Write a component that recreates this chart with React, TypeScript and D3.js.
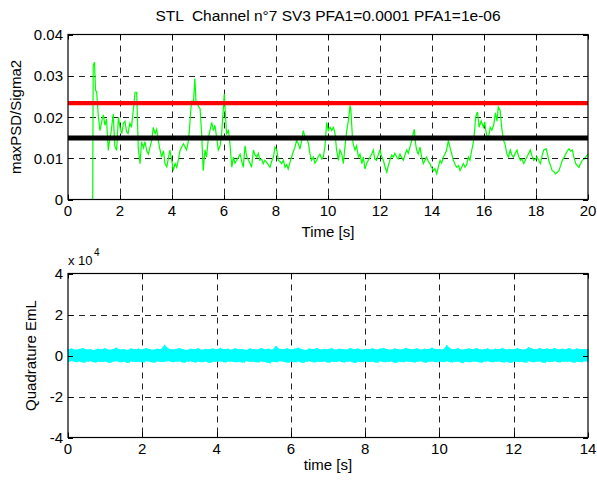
import React from 'react';
import * as d3 from 'd3';

const titleText = 'STL  Channel n°7 SV3 PFA1=0.0001 PFA1=1e-06';
const topXTicks = [0, 2, 4, 6, 8, 10, 12, 14, 16, 18, 20];
const topYTicks = [0, 0.01, 0.02, 0.03, 0.04];
const topYTickLabels = ['0', '0.01', '0.02', '0.03', '0.04'];
const topXLabel = 'Time [s]';
const topYLabel = 'maxPSD/Sigma2';
const redThreshold = 0.02335;
const blackThreshold = 0.0149;
const zeroLineT = [0, 20];
const zeroLineV = [0, 0];

const greenT = [
  0, 0.95, 0.97, 1.02, 1.06, 1.1, 1.17, 1.23, 1.3, 1.36, 1.42, 1.48, 1.55, 1.6, 1.65, 1.74, 1.8, 1.87, 1.94, 2.0,
  2.07, 2.13, 2.19, 2.25, 2.31, 2.38, 2.44, 2.51, 2.58, 2.64, 2.67, 2.7, 2.77, 2.83, 2.9, 2.96, 3.03, 3.09, 3.16, 3.22,
  3.28, 3.35, 3.41, 3.47, 3.54, 3.6, 3.67, 3.73, 3.8, 3.86, 3.92, 3.99, 4.05, 4.12, 4.18, 4.24, 4.31, 4.37, 4.44, 4.5,
  4.56, 4.62, 4.67, 4.72, 4.76, 4.82, 4.88, 4.92, 5.01, 5.08, 5.14, 5.2, 5.27, 5.33, 5.4, 5.46, 5.53, 5.59, 5.65, 5.72,
  5.78, 5.85, 5.91, 5.97, 6.01, 6.06, 6.1, 6.17, 6.23, 6.3, 6.36, 6.42, 6.49, 6.55, 6.62, 6.68, 6.74, 6.81, 6.87, 6.94,
  7.0, 7.06, 7.13, 7.19, 7.26, 7.32, 7.38, 7.45, 7.51, 7.57, 7.64, 7.7, 7.77, 7.83, 7.9, 7.96, 8.03, 8.09, 8.15, 8.22,
  8.28, 8.35, 8.41, 8.47, 8.53, 8.6, 8.66, 8.73, 8.79, 8.86, 8.92, 8.99, 9.05, 9.12, 9.18, 9.25, 9.31, 9.37, 9.44, 9.5,
  9.57, 9.63, 9.69, 9.76, 9.82, 9.88, 9.95, 10.01, 10.08, 10.14, 10.21, 10.27, 10.33, 10.4, 10.46, 10.53, 10.59, 10.65, 10.72, 10.78,
  10.85, 10.88, 10.94, 10.97, 11.04, 11.1, 11.17, 11.23, 11.3, 11.36, 11.42, 11.49, 11.55, 11.62, 11.68, 11.74, 11.8, 11.87, 11.93, 12.0,
  12.06, 12.13, 12.19, 12.26, 12.32, 12.38, 12.45, 12.51, 12.57, 12.64, 12.7, 12.77, 12.83, 12.9, 12.96, 13.03, 13.09, 13.15, 13.22, 13.28,
  13.32, 13.37, 13.41, 13.47, 13.54, 13.6, 13.67, 13.73, 13.79, 13.86, 13.92, 13.98, 14.05, 14.11, 14.18, 14.24, 14.31, 14.37, 14.44, 14.5,
  14.56, 14.63, 14.69, 14.76, 14.82, 14.89, 14.95, 15.02, 15.08, 15.14, 15.21, 15.27, 15.33, 15.4, 15.46, 15.53, 15.58, 15.63, 15.68, 15.75,
  15.81, 15.89, 15.98, 16.03, 16.07, 16.15, 16.2, 16.24, 16.3, 16.37, 16.44, 16.5, 16.55, 16.62, 16.68, 16.75, 16.81, 16.88, 16.94, 17.01,
  17.07, 17.14, 17.2, 17.27, 17.33, 17.4, 17.46, 17.53, 17.59, 17.65, 17.72, 17.78, 17.85, 17.91, 17.98, 18.04, 18.1, 18.17, 18.23, 18.3,
  18.39, 18.45, 18.49, 18.56, 18.62, 18.68, 18.75, 18.82, 18.88, 18.95, 19.01, 19.08, 19.14, 19.21, 19.27, 19.33, 19.4, 19.46, 19.53, 19.59,
  19.65, 19.72, 19.78, 19.85, 19.91, 20.0,
];
const greenV = [
  0, 0, 0.0325, 0.0333, 0.0264, 0.0262, 0.02, 0.0167, 0.019, 0.0205, 0.018, 0.0195, 0.0119, 0.0145, 0.016, 0.0208, 0.013, 0.0119, 0.02, 0.0175,
  0.016, 0.0185, 0.019, 0.0165, 0.016, 0.0185, 0.0175, 0.0216, 0.026, 0.026, 0.02, 0.0127, 0.0087, 0.014, 0.0125, 0.014, 0.0118, 0.011, 0.0128, 0.0143,
  0.0175, 0.016, 0.017, 0.0144, 0.012, 0.0103, 0.0118, 0.0087, 0.0079, 0.01, 0.012, 0.0095, 0.007, 0.0087, 0.0078, 0.0095, 0.0119, 0.0127, 0.0135, 0.0128,
  0.012, 0.0138, 0.0167, 0.0215, 0.024, 0.023, 0.0293, 0.024, 0.0227, 0.022, 0.016, 0.007, 0.012, 0.0103, 0.015, 0.0167, 0.0187, 0.0167, 0.018, 0.015,
  0.012, 0.013, 0.016, 0.0216, 0.0256, 0.02, 0.016, 0.0167, 0.0135, 0.0078, 0.0103, 0.0088, 0.0095, 0.0102, 0.011, 0.0093, 0.0078, 0.013, 0.0105, 0.0095,
  0.0088, 0.0078, 0.012, 0.0108, 0.0103, 0.0112, 0.0095, 0.0098, 0.0087, 0.0095, 0.009, 0.0085, 0.0078, 0.0092, 0.0103, 0.0127, 0.012, 0.0095, 0.0092, 0.0087,
  0.0095, 0.0078, 0.0085, 0.0074, 0.0088, 0.0103, 0.0115, 0.0127, 0.0143, 0.0135, 0.0122, 0.0143, 0.0167, 0.015, 0.015, 0.0135, 0.011, 0.0095, 0.0103, 0.0088,
  0.0095, 0.0105, 0.011, 0.0098, 0.0103, 0.0127, 0.0187, 0.0167, 0.0175, 0.0167, 0.0175, 0.016, 0.012, 0.0095, 0.012, 0.011, 0.0087, 0.0127, 0.0167, 0.019,
  0.0228, 0.0216, 0.015, 0.0135, 0.012, 0.013, 0.0103, 0.011, 0.0087, 0.0103, 0.0074, 0.0088, 0.0095, 0.0103, 0.011, 0.012, 0.0098, 0.0095, 0.0108, 0.012,
  0.0105, 0.0095, 0.008, 0.0066, 0.0082, 0.0095, 0.0108, 0.0103, 0.0112, 0.0103, 0.0098, 0.011, 0.0102, 0.0095, 0.0108, 0.012, 0.0112, 0.0127, 0.0143, 0.016,
  0.017, 0.0135, 0.012, 0.011, 0.0127, 0.0103, 0.0087, 0.0095, 0.0103, 0.0092, 0.0087, 0.0078, 0.007, 0.0075, 0.0062, 0.0078, 0.0095, 0.0088, 0.0103, 0.011,
  0.012, 0.0143, 0.0127, 0.011, 0.0095, 0.0085, 0.0078, 0.0082, 0.007, 0.0078, 0.0087, 0.0078, 0.0084, 0.0103, 0.0095, 0.012, 0.0135, 0.016, 0.02, 0.0212,
  0.0175, 0.019, 0.0175, 0.0188, 0.0167, 0.0143, 0.016, 0.0175, 0.0168, 0.018, 0.021, 0.019, 0.0224, 0.0216, 0.0175, 0.0143, 0.0135, 0.011, 0.0103, 0.012,
  0.0108, 0.0103, 0.0112, 0.012, 0.0105, 0.0095, 0.0098, 0.0087, 0.0095, 0.0103, 0.0112, 0.012, 0.0105, 0.0095, 0.0098, 0.0103, 0.0095, 0.0087, 0.0105, 0.012,
  0.0123, 0.0108, 0.0095, 0.0082, 0.007, 0.0068, 0.0062, 0.0066, 0.007, 0.0082, 0.0095, 0.0102, 0.011, 0.0118, 0.0123, 0.0117, 0.012, 0.0102, 0.0087, 0.0082,
  0.0078, 0.0088, 0.0095, 0.0098, 0.0103, 0.011,
];

const bottomXTicks = [0, 2, 4, 6, 8, 10, 12, 14];
const bottomYTicks = [-4, -2, 0, 2, 4];
const bottomXLabel = 'time [s]';
const bottomYLabel = 'Quadrature EmL';
const cyanStep = 0.1;
// values in units of 1e4
const cyanUpper = [
  0.30, 0.34, 0.28, 0.32, 0.36, 0.29, 0.31, 0.27, 0.33, 0.30,
  0.35, 0.28, 0.31, 0.38, 0.29, 0.32, 0.27, 0.34, 0.30, 0.33,
  0.29, 0.36, 0.31, 0.28, 0.33, 0.30, 0.52, 0.34, 0.29, 0.32,
  0.36, 0.30, 0.27, 0.33, 0.31, 0.35, 0.28, 0.32, 0.30, 0.34,
  0.29, 0.37, 0.31, 0.33, 0.28, 0.35, 0.30, 0.32, 0.27, 0.34,
  0.31, 0.29, 0.36, 0.30, 0.33, 0.28, 0.46, 0.32, 0.30, 0.35,
  0.29, 0.33, 0.38, 0.30, 0.27, 0.34, 0.31, 0.36, 0.29, 0.32,
  0.30, 0.35, 0.28, 0.33, 0.31, 0.29, 0.36, 0.30, 0.34, 0.28,
  0.32, 0.30, 0.35, 0.29, 0.33, 0.37, 0.30, 0.28, 0.34, 0.31,
  0.29, 0.36, 0.32, 0.30, 0.35, 0.28, 0.33, 0.31, 0.38, 0.30,
  0.32, 0.29, 0.50, 0.33, 0.30, 0.35, 0.28, 0.32, 0.34, 0.30,
  0.36, 0.29, 0.31, 0.34, 0.28, 0.33, 0.30, 0.37, 0.29, 0.32,
  0.30, 0.35, 0.31, 0.28, 0.40, 0.33, 0.29, 0.36, 0.31, 0.34,
  0.30, 0.37, 0.29, 0.33, 0.31, 0.36, 0.28, 0.34, 0.30, 0.32,
  0.31,
];
const cyanLower = [
  -0.30, -0.27, -0.33, -0.29, -0.35, -0.31, -0.28, -0.34, -0.30, -0.32,
  -0.29, -0.36, -0.31, -0.28, -0.33, -0.30, -0.37, -0.29, -0.32, -0.30,
  -0.34, -0.28, -0.31, -0.35, -0.29, -0.32, -0.30, -0.27, -0.33, -0.31,
  -0.29, -0.35, -0.31, -0.28, -0.34, -0.30, -0.33, -0.29, -0.36, -0.31,
  -0.30, -0.28, -0.34, -0.31, -0.29, -0.33, -0.30, -0.35, -0.28, -0.32,
  -0.31, -0.34, -0.29, -0.32, -0.38, -0.30, -0.33, -0.28, -0.31, -0.35,
  -0.30, -0.33, -0.29, -0.36, -0.31, -0.28, -0.34, -0.30, -0.32, -0.29,
  -0.35, -0.30, -0.32, -0.28, -0.34, -0.31, -0.29, -0.37, -0.30, -0.33,
  -0.29, -0.32, -0.30, -0.35, -0.28, -0.33, -0.31, -0.29, -0.36, -0.30,
  -0.33, -0.29, -0.31, -0.34, -0.30, -0.28, -0.35, -0.31, -0.29, -0.33,
  -0.30, -0.32, -0.28, -0.34, -0.31, -0.29, -0.36, -0.30, -0.33, -0.29,
  -0.31, -0.35, -0.30, -0.28, -0.33, -0.31, -0.29, -0.34, -0.30, -0.36,
  -0.29, -0.32, -0.30, -0.35, -0.28, -0.33, -0.31, -0.29, -0.37, -0.30,
  -0.32, -0.28, -0.34, -0.30, -0.31, -0.29, -0.35, -0.30, -0.33, -0.28,
  -0.30,
];

const W = 597;
const H = 483;
const FONT = "'Liberation Sans', Arial, Helvetica, sans-serif";
const FS = 15;
const L = 68, R = 588;
const top1 = 34.5, bot1 = 199.5;
const top2 = 273.5, bot2 = 437.5;
const TICK = 5;

type AxesProps = {
  x: d3.ScaleLinear<number, number>;
  y: d3.ScaleLinear<number, number>;
  xTicks: number[];
  yTicks: number[];
  yLabels: string[];
  xLabel: string;
  yLabel: string;
  xLabelY: number;
  yLabelX: number;
  children?: React.ReactNode;
};

function Axes({ x, y, xTicks, yTicks, yLabels, xLabel, yLabel, xLabelY, yLabelX, children }: AxesProps) {
  const [x0, x1] = x.range();
  const [y0, y1] = y.range(); // y0 bottom, y1 top
  return (
    <g>
      <rect x={x0} y={y1} width={x1 - x0} height={y0 - y1} fill="#fff" />
      {xTicks.slice(1, -1).map((t) => (
        <line key={'gx' + t} x1={Math.round(x(t)) + 0.5} x2={Math.round(x(t)) + 0.5} y1={y1} y2={y0}
          stroke="#222" strokeWidth={1} strokeDasharray="6,5" />
      ))}
      {yTicks.slice(1, -1).map((t) => (
        <line key={'gy' + t} y1={Math.round(y(t)) + 0.5} y2={Math.round(y(t)) + 0.5} x1={x0} x2={x1}
          stroke="#222" strokeWidth={1} strokeDasharray="6,5" />
      ))}
      {children}
      {xTicks.map((t) => (
        <g key={'tx' + t}>
          <line x1={Math.round(x(t)) + 0.5} x2={Math.round(x(t)) + 0.5} y1={y0} y2={y0 - TICK} stroke="#000" />
          <line x1={Math.round(x(t)) + 0.5} x2={Math.round(x(t)) + 0.5} y1={y1} y2={y1 + TICK} stroke="#000" />
          <text x={x(t)} y={y0 + 16} textAnchor="middle" fontSize={FS} fontFamily={FONT} fill="#000">{String(t)}</text>
        </g>
      ))}
      {yTicks.map((t, i) => (
        <g key={'ty' + t}>
          <line x1={x0} x2={x0 + TICK} y1={Math.round(y(t)) + 0.5} y2={Math.round(y(t)) + 0.5} stroke="#000" />
          <line x1={x1} x2={x1 - TICK} y1={Math.round(y(t)) + 0.5} y2={Math.round(y(t)) + 0.5} stroke="#000" />
          <text x={x0 - 5} y={y(t) + 5.5} textAnchor="end" fontSize={FS} fontFamily={FONT} fill="#000">{yLabels[i]}</text>
        </g>
      ))}
      <rect x={x0} y={y1} width={x1 - x0} height={y0 - y1} fill="none" stroke="#000" strokeWidth={1.2} />
      <text x={(x0 + x1) / 2} y={xLabelY} textAnchor="middle" fontSize={FS} fontFamily={FONT} fill="#000">{xLabel}</text>
      <text transform={`translate(${yLabelX},${(y0 + y1) / 2}) rotate(-90)`} textAnchor="middle" fontSize={FS}
        fontFamily={FONT} fill="#000">{yLabel}</text>
    </g>
  );
}

export default function App() {
  const x1 = d3.scaleLinear().domain([0, 20]).range([L, R]);
  const y1 = d3.scaleLinear().domain([0, 0.04]).range([bot1, top1]);
  const x2 = d3.scaleLinear().domain([0, 14]).range([L, R]);
  const y2 = d3.scaleLinear().domain([-4, 4]).range([bot2, top2]);

  const greenLine = d3.line<number>().x((_, i) => x1(greenT[i])).y((v) => y1(v));
  const zeroLine = d3.line<number>().x((_, i) => x1(zeroLineT[i])).y((v) => y1(v));

  const cyanArea = d3.area<number>()
    .x((_, i) => x2(i * cyanStep))
    .y0((_, i) => y2(cyanLower[i]))
    .y1((v) => y2(v));
  const zig: [number, number][] = [];
  cyanUpper.forEach((u, i) => {
    zig.push([i * cyanStep, u]);
    if (i < cyanUpper.length - 1) zig.push([i * cyanStep + cyanStep / 2, cyanLower[i]]);
  });
  zig.push([14, cyanLower[cyanLower.length - 1]]);
  const cyanZig = d3.line<[number, number]>().x((d) => x2(d[0])).y((d) => y2(d[1]));

  const yTickLabels2 = bottomYTicks.map((t) => String(t));

  return (
    <svg width={W} height={H} style={{ position: 'absolute', left: 0, top: 0, background: '#fff' }}>
      <rect width={W} height={H} fill="#fff" />
      <text x={(L + R) / 2 + 0} y={21} textAnchor="middle" fontSize={15.5} fontFamily={FONT} fill="#000"
        style={{ whiteSpace: 'pre' }}>{titleText}</text>
      <Axes x={x1} y={y1} xTicks={topXTicks} yTicks={topYTicks} yLabels={topYTickLabels}
        xLabel={topXLabel} yLabel={topYLabel} xLabelY={237} yLabelX={21}>
        <path d={zeroLine(zeroLineV) || ''} fill="none" stroke="#00ff00" strokeWidth={1.2} />
        <path d={greenLine(greenV) || ''} fill="none" stroke="#00ff00" strokeWidth={1.2} />
        <line x1={L} x2={R} y1={y1(redThreshold)} y2={y1(redThreshold)} stroke="#ff0000" strokeWidth={4.3} />
        <line x1={L} x2={R} y1={y1(blackThreshold)} y2={y1(blackThreshold)} stroke="#000" strokeWidth={5} />
      </Axes>
      <Axes x={x2} y={y2} xTicks={bottomXTicks} yTicks={bottomYTicks} yLabels={yTickLabels2}
        xLabel={bottomXLabel} yLabel={bottomYLabel} xLabelY={470} yLabelX={36}>
        <path d={cyanArea(cyanUpper) || ''} fill="#00ffff" stroke="none" />
        <path d={cyanZig(zig) || ''} fill="none" stroke="#00ffff" strokeWidth={1} />
      </Axes>
      <text x={68} y={265} fontSize={13} fontFamily={FONT} fill="#000">x 10</text>
      <text x={94} y={256} fontSize={10} fontFamily={FONT} fill="#000">4</text>
    </svg>
  );
}
